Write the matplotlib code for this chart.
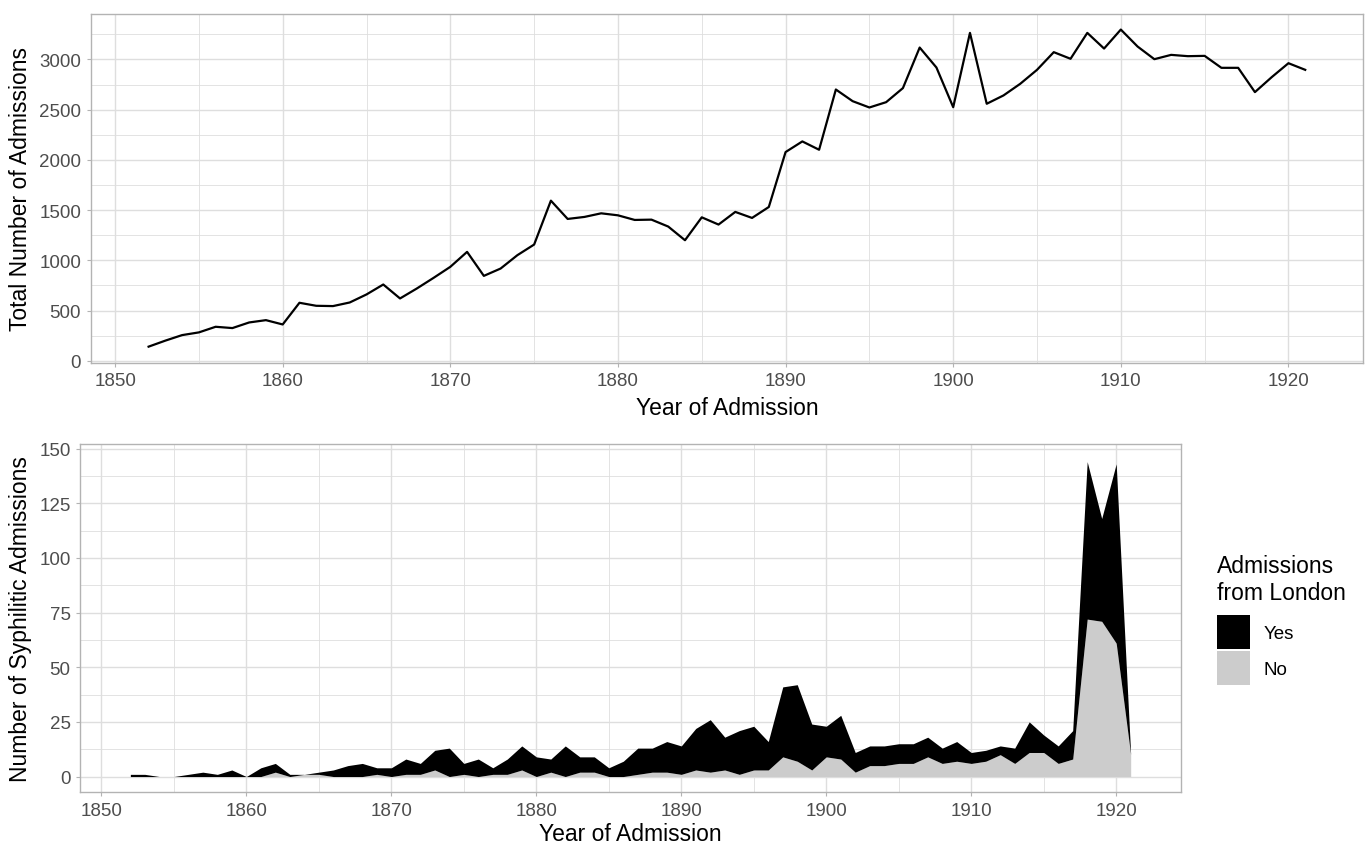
import matplotlib
matplotlib.use('Agg')

import matplotlib.pyplot as plt
from matplotlib.patches import Patch
from matplotlib.ticker import MultipleLocator
import numpy as np

plt.rcParams['font.family'] = ['Liberation Sans', 'DejaVu Sans']

# admissions per year, 1852-1921
years = list(range(1852, 1922))

total_admissions = [
    140, 200, 255, 282, 338, 325, 381, 404, 361, 577,
    547, 544, 580, 660, 759, 620, 719, 825, 935, 1084,
    845, 918, 1051, 1157, 1594, 1412, 1432, 1468, 1448, 1402,
    1405, 1336, 1200, 1428, 1356, 1482, 1422, 1531, 2078, 2184,
    2101, 2701, 2585, 2522, 2575, 2715, 3119, 2920, 2525, 3265,
    2559, 2642, 2758, 2897, 3073, 3007, 3265, 3109, 3298, 3129,
    3003, 3046, 3033, 3036, 2917, 2917, 2675, 2824, 2963, 2897,
]

# syphilitic admissions split by origin
syph_no = [
    0, 0, 0, 0, 0, 0, 0, 0, 0, 0,
    2, 0, 1, 1, 0, 0, 0, 1, 0, 1,
    1, 3, 0, 1, 0, 1, 1, 3, 0, 2,
    0, 2, 2, 0, 0, 1, 2, 2, 1, 3,
    2, 3, 1, 3, 3, 9, 7, 3, 9, 8,
    2, 5, 5, 6, 6, 9, 6, 7, 6, 7,
    10, 6, 11, 11, 6, 8, 72, 71, 61, 10,
]
syph_yes = [
    1, 1, 0, 0, 1, 2, 1, 3, 0, 4,
    4, 1, 0, 1, 3, 5, 6, 3, 4, 7,
    5, 9, 13, 5, 8, 3, 7, 11, 9, 6,
    14, 7, 7, 4, 7, 12, 11, 14, 13, 19,
    24, 15, 20, 20, 13, 32, 35, 21, 14, 20,
    9, 9, 9, 9, 9, 9, 7, 9, 5, 5,
    4, 7, 14, 8, 8, 13, 72, 47, 82, 0,
]

legend_labels = ['Yes', 'No']

GRID = '#DEDEDE'
BORDER = '#B3B3B3'
TICKTXT = '#4D4D4D'


def style_axes(ax, ymajor, yminor):
    ax.xaxis.set_major_locator(MultipleLocator(10))
    ax.xaxis.set_minor_locator(MultipleLocator(5))
    ax.yaxis.set_major_locator(MultipleLocator(ymajor))
    ax.yaxis.set_minor_locator(MultipleLocator(yminor))
    ax.grid(which='major', color=GRID, linewidth=1.0)
    ax.grid(which='minor', color=GRID, linewidth=0.6)
    ax.set_axisbelow(True)
    for s in ax.spines.values():
        s.set_color(BORDER)
        s.set_linewidth(1.0)
    ax.tick_params(which='major', length=3, width=0.8, color=BORDER,
                   labelcolor=TICKTXT, labelsize=13.5, pad=4)
    ax.tick_params(which='minor', length=0)


fig = plt.figure(figsize=(13.71, 8.45), dpi=100)

# top panel: total admissions
ax1 = fig.add_axes([0.0662, 0.5698, 0.928, 0.4128])
ax1.plot(years, total_admissions, color='black', linewidth=1.6)
ax1.set_xlim(1848.55, 1924.45)
ax1.set_ylim(-18, 3456)
style_axes(ax1, 500, 250)
ax1.set_xlabel('Year of Admission', fontsize=16.5, labelpad=5)
ax1.set_ylabel('Total Number of Admissions', fontsize=16.5, labelpad=5)

# bottom panel: syphilitic admissions, stacked
no_arr = np.array(syph_no)
yes_arr = np.array(syph_yes)
ax2 = fig.add_axes([0.0586, 0.0612, 0.8026, 0.4125])
ax2.fill_between(years, 0, no_arr, color='#CCCCCC', linewidth=0)
ax2.fill_between(years, no_arr, no_arr + yes_arr, color='black', linewidth=0)
ax2.set_xlim(1848.55, 1924.45)
ax2.set_ylim(-7.2, 152.2)
style_axes(ax2, 25, 12.5)
ax2.set_xlabel('Year of Admission', fontsize=16.5, labelpad=2)
ax2.set_ylabel('Number of Syphilitic Admissions', fontsize=16.5, labelpad=5)

handles = [Patch(facecolor='black', edgecolor='none'),
           Patch(facecolor='#CCCCCC', edgecolor='none')]
leg = fig.legend(handles, legend_labels, title='Admissions\nfrom London',
                 loc='upper left', bbox_to_anchor=(1217 / 1371, 1 - 555 / 845),
                 frameon=False, fontsize=13.5, title_fontsize=16.5,
                 alignment='left', borderpad=0, borderaxespad=0,
                 handlelength=1.75, handleheight=2.45, labelspacing=0.08,
                 handletextpad=0.75)
leg._legend_box.sep = 8

fig.savefig('out.png', dpi=100)
